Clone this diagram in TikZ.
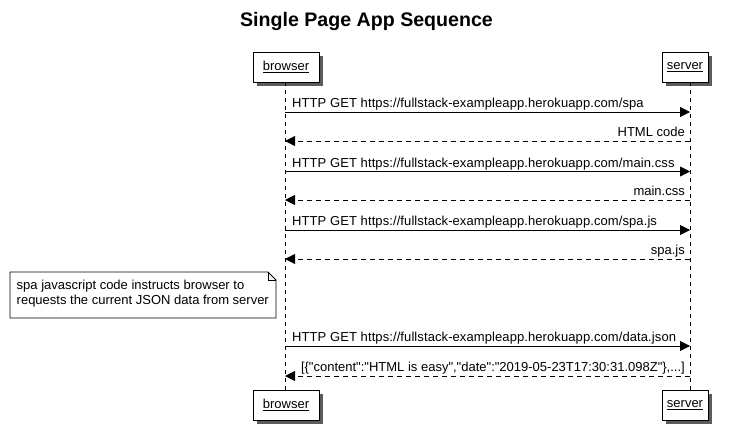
\documentclass[tikz,border=0pt]{standalone}
\usepackage{fontspec}
\setmainfont{Liberation Sans}[Ligatures=TeXOff]
\usetikzlibrary{arrows.meta,shadows}
\begin{document}
\begin{tikzpicture}[x=1pt,y=-1pt,
  part/.style={draw=black,fill=white,line width=0.9pt,minimum height=30pt,inner sep=0pt,
    font=\fontsize{13}{15}\selectfont,
    drop shadow={shadow xshift=3.5pt,shadow yshift=-3.5pt,fill=black!80,opacity=0.8}},
  life/.style={line width=0.8pt,dash pattern=on 4pt off 4pt},
  req/.style={line width=0.8pt,-{Triangle[length=10pt,width=10pt]}},
  rep/.style={line width=0.8pt,dash pattern=on 5pt off 4pt,-{Triangle[length=10pt,width=10pt]}},
  lbl/.style={font=\fontsize{13}{15}\selectfont,inner sep=0pt},
  url/.style={font=\fontsize{13}{15}\selectfont\addfontfeature{LetterSpace=0.7},inner sep=0pt},
  note/.style={font=\fontsize{13}{15}\selectfont,inner sep=0pt,align=left}]
\useasboundingbox (0,0) rectangle (733,445);
\node[font=\bfseries\fontsize{19.6}{22}\selectfont] (title) at (366.5,21) {Single Page App Sequence};
% participants
\node[part,minimum width=66pt] (bt) at (286,67) {\underline{browser}};
\node[part,minimum width=46pt] (st) at (685,67) {\underline{server}};
\node[part,minimum width=66pt] (bb) at (286,405) {\underline{browser}};
\node[part,minimum width=46pt] (sb) at (685,405) {\underline{server}};
% lifelines
\coordinate (bl) at (285,0);
\coordinate (sl) at (690,0);
\draw[life] (bl |- bt.south) -- (bl |- bb.north);
\draw[life] (sl |- st.south) -- (sl |- sb.north);
% messages
\foreach \y/\name in {112/m1,171.5/m3,230/m5,346/m7}{
  \coordinate (\name a) at (285,\y); \coordinate (\name b) at (690,\y);
}
\foreach \y/\name in {141/m2,200/m4,259/m6,376/m8}{
  \coordinate (\name a) at (690,\y); \coordinate (\name b) at (285,\y);
}
\draw[req] (m1a) -- (m1b);
\draw[rep] (m2a) -- (m2b);
\draw[req] (m3a) -- (m3b);
\draw[rep] (m4a) -- (m4b);
\draw[req] (m5a) -- (m5b);
\draw[rep] (m6a) -- (m6b);
\draw[req] (m7a) -- (m7b);
\draw[rep] (m8a) -- (m8b);
\node[url,anchor=base west] (t1) at (292,107.5) {HTTP GET https://fullstack-exampleapp.herokuapp.com/spa};
\node[lbl,anchor=base east] (t2) at (685,136.5) {HTML code};
\node[url,anchor=base west] (t3) at (292,167) {HTTP GET https://fullstack-exampleapp.herokuapp.com/main.css};
\node[lbl,anchor=base east] (t4) at (685,195.5) {main.css};
\node[url,anchor=base west] (t5) at (292,225.5) {HTTP GET https://fullstack-exampleapp.herokuapp.com/spa.js};
\node[lbl,anchor=base east] (t6) at (685,254.5) {spa.js};
\node[url,anchor=base west] (t7) at (292,341.5) {HTTP GET https://fullstack-exampleapp.herokuapp.com/data.json};
\node[lbl,anchor=base east] (t8) at (685,371.5) {[\{"content":"HTML is easy","date":"2019-05-23T17:30:31.098Z"\},...]};
% note
\draw[line width=0.8pt,fill=white] (10,272) -- (268,272) -- (276,280) -- (276,318) -- (10,318) -- cycle;
\draw[line width=0.8pt] (268,272) -- (268,280) -- (276,280);
\node[note,anchor=north west] (nt) at (16.5,280) {spa javascript code instructs browser to\\requests the current JSON data from server};
\end{tikzpicture}
\end{document}
